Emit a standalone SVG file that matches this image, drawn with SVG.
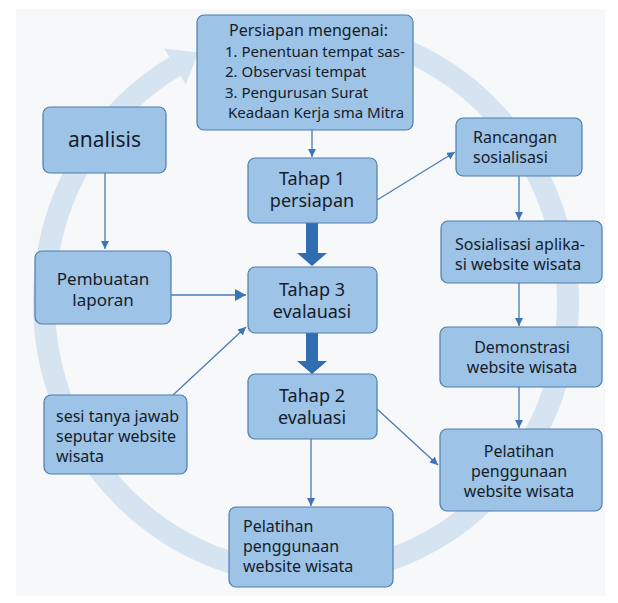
<svg xmlns="http://www.w3.org/2000/svg" width="618" height="603" viewBox="0 0 618 603">
<defs>
<style>
.box{fill:#9dc3e6;stroke:#4f7ead;stroke-width:1.2}
.t{font-family:"Noto Sans","Open Sans","DejaVu Sans",sans-serif;fill:#161c2a;font-size:16px}
.tm{text-anchor:middle}
.big{font-size:18px}
.top{font-size:15px}
.con{fill:none;stroke:#4a7bb4;stroke-width:1.3}
.thick{fill:#2f6db1}
</style>
<marker id="ah" markerUnits="userSpaceOnUse" markerWidth="10" markerHeight="10" refX="8" refY="4" orient="auto">
<path d="M0,0 L8,4 L0,8 z" fill="#3f74b2"/>
</marker>
<marker id="ahb" markerUnits="userSpaceOnUse" markerWidth="13" markerHeight="13" refX="11" refY="6" orient="auto">
<path d="M0,0 L11,6 L0,12 z" fill="#3f74b2"/>
</marker>
</defs>
<rect x="0" y="0" width="618" height="603" fill="#ffffff"/>
<rect x="16" y="9" width="589" height="587" fill="#f7f8fa"/>
<g id="cycle">
<path d="M 260.5 34.1 A 262 272 0 1 1 175 66.4" fill="none" stroke="#d6e3f1" stroke-width="22"/>
<polygon points="185.8,84.4 164.2,48.4 198.2,52.5" fill="#d6e3f1"/>
</g>
<g id="connectors">
<path class="con" d="M312,130 L312,157" marker-end="url(#ah)"/>
<path class="con" d="M105,173 L105,249" marker-end="url(#ah)"/>
<path class="con" d="M171,295 L246,295" marker-end="url(#ahb)"/>
<path class="con" d="M173,395 L246,327" marker-end="url(#ah)"/>
<path class="con" d="M377,200 L455,152" marker-end="url(#ah)"/>
<path class="con" d="M519,176 L519,220" marker-end="url(#ah)"/>
<path class="con" d="M519,283 L519,326" marker-end="url(#ah)"/>
<path class="con" d="M519,387 L519,428" marker-end="url(#ah)"/>
<path class="con" d="M377,409 L438,465" marker-end="url(#ah)"/>
<path class="con" d="M311,439 L311,506" marker-end="url(#ah)"/>
<polygon class="thick" points="306,223 318,223 318,253 327,253 312,266 297,253 306,253"/>
<polygon class="thick" points="306,333 318,333 318,361 327,361 312,374 297,361 306,361"/>
</g>
<g id="persiapan">
<rect class="box" x="197" y="15" width="216" height="115" rx="7"/>
<text class="t" x="229" y="36">Persiapan mengenai:</text>
<text class="t top" x="225" y="56.5">1. Penentuan tempat sas-</text>
<text class="t top" x="225" y="77">2. Observasi tempat</text>
<text class="t top" x="225" y="97.5">3. Pengurusan Surat</text>
<text class="t top" x="228" y="118">Keadaan Kerja sma Mitra</text>
</g>
<g id="analisis">
<rect class="box" x="43" y="107" width="123" height="66" rx="7"/>
<text class="t tm" style="font-size:21px" x="104.5" y="147">analisis</text>
</g>
<g id="tahap1">
<rect class="box" x="248" y="158" width="129" height="65" rx="7"/>
<text class="t tm big" x="312" y="185">Tahap 1</text>
<text class="t tm big" x="312" y="207">persiapan</text>
</g>
<g id="pembuatan">
<rect class="box" x="35" y="251" width="136" height="73" rx="7"/>
<text class="t tm" style="font-size:17px" x="103" y="285">Pembuatan</text>
<text class="t tm" style="font-size:17px" x="103" y="306">laporan</text>
</g>
<g id="tahap3">
<rect class="box" x="248" y="267" width="129" height="66" rx="7"/>
<text class="t tm big" x="312" y="296">Tahap 3</text>
<text class="t tm big" x="312" y="318">evalauasi</text>
</g>
<g id="tahap2">
<rect class="box" x="248" y="374" width="129" height="65" rx="7"/>
<text class="t tm big" x="312" y="402">Tahap 2</text>
<text class="t tm big" x="312" y="424">evaluasi</text>
</g>
<g id="sesi">
<rect class="box" x="44" y="395" width="143" height="79" rx="7"/>
<text class="t" x="56" y="422">sesi tanya jawab</text>
<text class="t" x="56" y="442">seputar website</text>
<text class="t" x="56" y="462">wisata</text>
</g>
<g id="pelatihan-bawah">
<rect class="box" x="229" y="507" width="164" height="80" rx="7"/>
<text class="t" x="243" y="532">Pelatihan</text>
<text class="t" x="243" y="552">penggunaan</text>
<text class="t" x="243" y="572">website wisata</text>
</g>
<g id="rancangan">
<rect class="box" x="456" y="118" width="126" height="58" rx="7"/>
<text class="t" x="473" y="143">Rancangan</text>
<text class="t" x="473" y="163">sosialisasi</text>
</g>
<g id="sosialisasi">
<rect class="box" x="441" y="221" width="161" height="62" rx="7"/>
<text class="t" x="455" y="250">Sosialisasi aplika-</text>
<text class="t" x="455" y="270">si website wisata</text>
</g>
<g id="demonstrasi">
<rect class="box" x="440" y="327" width="162" height="60" rx="7"/>
<text class="t tm" x="522" y="353">Demonstrasi</text>
<text class="t tm" x="522" y="373">website wisata</text>
</g>
<g id="pelatihan-kanan">
<rect class="box" x="440" y="429" width="162" height="82" rx="7"/>
<text class="t tm" x="519" y="457">Pelatihan</text>
<text class="t tm" x="519" y="477">penggunaan</text>
<text class="t tm" x="519" y="497">website wisata</text>
</g>
</svg>
